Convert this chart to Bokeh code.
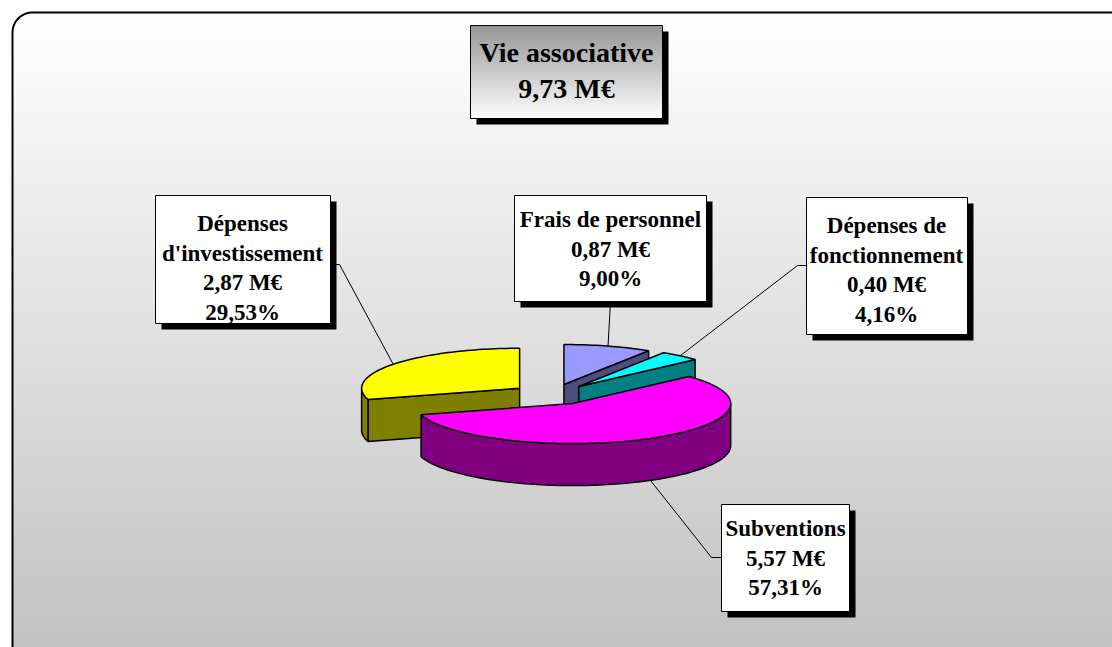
import numpy as np
from bokeh.plotting import figure
from bokeh.models import Range1d
from bokeh.core.properties import value
from bokeh.embed import file_html
from bokeh.resources import INLINE

# ---------------- data ----------------
categories = ["Frais de personnel", "Dépenses de fonctionnement",
              "Subventions", "Dépenses d'investissement"]
label_names = [["Frais de personnel"], ["Dépenses de", "fonctionnement"],
               ["Subventions"], ["Dépenses", "d'investissement"]]
amounts_meur = [0.87, 0.40, 5.57, 2.87]
percents = [9.00, 4.16, 57.31, 29.53]
total_meur = 9.73
title_name = "Vie associative"
top_colors = ["#9999FF", "#00FFFF", "#FF00FF", "#FFFF00"]
side_colors = ["#4D4D80", "#008080", "#800080", "#808000"]

# ---------------- layout ----------------
W, H = 1112, 647
X0, Y0 = 0, 0
CX, CY = 552, 394        # pie centre (screen px)
A, B = 158, 40           # ellipse radii
DEPTH = 42
EXPL = 0.26              # explosion as fraction of radius
FONT = value("Liberation Serif")

p = figure(width=W, height=H, x_range=Range1d(X0, X0 + W), y_range=Range1d(Y0 + H, Y0),
           output_backend="svg", toolbar_location=None, min_border=0,
           x_axis_type=None, y_axis_type=None)
p.grid.visible = False
p.outline_line_color = None
p.background_fill_color = "white"
p.border_fill_color = "white"

def fr(s):
    return s.replace(".", ",")

# background gradient inside frame
FL, FT = 12, 12
ys = np.arange(FT, Y0 + H + 4, 4)
cols = []
for y in ys:
    v = int(round(255 - (255 - 194) * (y - FT) / (647 - FT)))
    cols.append("#%02x%02x%02x" % (v, v, v))
p.quad(left=FL, right=X0 + W + 2, top=ys, bottom=ys + 5, fill_color=cols, line_color=None)

# rounded corner cover + frame
R = 20
ang = np.linspace(np.pi, 1.5 * np.pi, 30)
axs = FL + R + R * np.cos(ang)
ays = FT + R + R * np.sin(ang)
p.patch(x=list(axs) + [FL - 1], y=list(ays) + [FT - 1], fill_color="white", line_color=None)
p.line(x=[FL] + list(axs) + [X0 + W + 5], y=[Y0 + H + 5] + list(ays) + [FT],
       line_color="black", line_width=2)

# ---------------- pie ----------------
def arc(sx, sy, t0, t1, dy=0.0):
    n = max(3, int(abs(t1 - t0) / 1.5) + 2)
    th = np.radians(np.linspace(t0, t1, n))
    return list(sx + A * np.sin(th)), list(sy - B * np.cos(th) + dy)

starts, cum = [], 0.0
for pc in percents:
    starts.append(cum * 3.6)
    cum += pc
ends = [s + pc * 3.6 for s, pc in zip(starts, percents)]

centres, anchors = [], []
for i in range(len(percents)):
    mid = np.radians((starts[i] + ends[i]) / 2)
    sx = CX + EXPL * A * np.sin(mid)
    sy = CY - EXPL * B * np.cos(mid)
    centres.append((sx, sy))
    ax_ = sx + A * np.sin(mid)
    ay_ = sy - B * np.cos(mid) + (DEPTH if np.cos(mid) < 0 else 0)
    anchors.append((ax_, ay_))

pxs, pys, pcs = [], [], []
for i in [3, 0, 1, 2]:
    sx, sy = centres[i]
    t0, t1 = starts[i], ends[i]
    for t, vis in ((t0, np.sin(np.radians(t0)) < -1e-6), (t1, np.sin(np.radians(t1)) > 1e-6)):
        if vis:
            ox = sx + A * np.sin(np.radians(t))
            oy = sy - B * np.cos(np.radians(t))
            pxs.append([sx, ox, ox, sx]); pys.append([sy, oy, oy + DEPTH, sy + DEPTH])
            pcs.append(side_colors[i])
    lo, hi = max(t0, 90), min(t1, 270)
    if lo < hi:
        tx, ty = arc(sx, sy, lo, hi)
        bx, by = arc(sx, sy, lo, hi, DEPTH)
        pxs.append(tx + bx[::-1]); pys.append(ty + by[::-1]); pcs.append(side_colors[i])
    tx, ty = arc(sx, sy, t0, t1)
    pxs.append([sx] + tx); pys.append([sy] + ty); pcs.append(top_colors[i])
p.patches(xs=pxs, ys=pys, fill_color=pcs, line_color="black", line_width=1.5)

# ---------------- labels ----------------
boxes = [(514, 195, 706, 301), (806, 197, 967, 334), (721, 504, 849, 611), (155, 195, 330, 323)]
text_pos = [(610, 219), (886, 225), (785, 528), (242, 223)]
elbows = [None, (797, 265), (711, 557), (339, 264)]
attach = [(610, 301), (806, 265), (721, 557), (330, 264)]
STEP = 29.5
SH = 6

lx, ly = [], []
for i in range(4):
    pts = [anchors[i]] + ([elbows[i]] if elbows[i] else []) + [attach[i]]
    lx.append([q[0] for q in pts]); ly.append([q[1] for q in pts])
p.multi_line(xs=lx, ys=ly, line_color="black", line_width=1)

for i in range(4):
    l, t, r, b = boxes[i]
    p.quad(left=l + SH, right=r + SH, top=t + SH, bottom=b + SH, fill_color="black", line_color=None)
    p.quad(left=l, right=r, top=t, bottom=b, fill_color="white", line_color="black", line_width=1)
    lines = label_names[i] + [fr("%.2f M€" % amounts_meur[i]), fr("%.2f%%" % percents[i])]
    x, y = text_pos[i]
    p.text(x=[x] * len(lines), y=[y + k * STEP for k in range(len(lines))], text=lines,
           text_font=FONT, text_font_style="bold", text_font_size="23px",
           text_align="center", text_baseline="middle", text_color="black")

# ---------------- title ----------------
tl, tt, tr, tb = 470, 25, 662, 118
p.quad(left=tl + SH, right=tr + SH, top=tt + SH, bottom=tb + SH, fill_color="black", line_color=None)
gys = np.arange(tt, tb, 2)
gcols = []
for y in gys:
    v = int(round(150 + (255 - 150) * (y - tt) / (tb - tt)))
    gcols.append("#%02x%02x%02x" % (v, v, v))
p.quad(left=tl, right=tr, top=gys, bottom=np.minimum(gys + 3, tb), fill_color=gcols, line_color=None)
p.quad(left=tl, right=tr, top=tt, bottom=tb, fill_color=None, line_color="black", line_width=1)
tlines = [title_name, fr("%.2f M€" % total_meur)]
p.text(x=[566, 566], y=[52, 88], text=tlines, text_font=FONT, text_font_style="bold",
       text_font_size="28px", text_align="center", text_baseline="middle", text_color="black")

open("out.html", "w").write(file_html(p, INLINE))
